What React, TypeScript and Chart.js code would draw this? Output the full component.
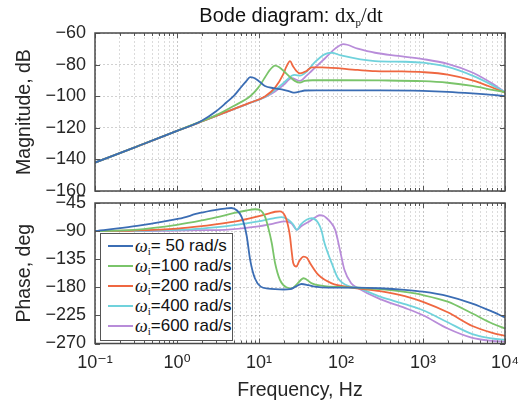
import React, { useEffect, useRef } from "react";
import { Chart, registerables } from "chart.js";
Chart.register(...registerables);

// ---------- data ----------
const seriesNames = ["50", "100", "200", "400", "600"]; // rad/s
const seriesColors = ["#3b6db4", "#7ac46a", "#ef6741", "#70d2dc", "#b88cd9"];

const xMajorTicks = [0.1, 1, 10, 100, 1000, 10000];
const xMajorLabels = ["10\u207B\u00B9", "10\u2070", "10\u00B9", "10\u00B2", "10\u00B3", "10\u2074"];
const magTicks = [-160, -140, -120, -100, -80, -60];
const phaseTicks = [-270, -225, -180, -135, -90, -45];

// magnitude (dB)
const blueMagF = [0.1, 0.3, 1, 2, 3, 4, 5, 6, 7, 7.8, 8.6, 10, 11.8, 15, 18.9, 23, 27.3, 32, 36, 50, 100, 300, 1000, 2000, 4000, 7000, 10000];
const blueMagDb = [-142, -132.5, -122, -115.5, -109.5, -104, -99.5, -94.5, -90.5, -87.9, -88.3, -90.5, -93.5, -94.9, -95.7, -96.8, -97.8, -97, -96.4, -96.3, -96.3, -96.3, -96.6, -97.2, -98.2, -99.2, -100];

const greenMagF = [0.1, 0.3, 1, 2, 3, 4.9, 7.8, 9.8, 11.8, 13.5, 15.7, 17.5, 20.9, 24, 27.3, 31.6, 36, 45, 100, 300, 1000, 2000, 4000, 7000, 10000];
const greenMagDb = [-142, -132.5, -122, -115.8, -112, -106.2, -100, -94.6, -88.2, -83.5, -80.6, -81.5, -85, -88, -90.3, -91.4, -90.3, -89.9, -89.9, -90, -90.5, -91.5, -93.5, -96, -97.5];

const redMagF = [0.1, 0.3, 1, 2, 3, 5, 7.8, 11.8, 15.7, 19.8, 21.5, 23.9, 26, 28.5, 31.6, 38, 44, 58, 160, 260, 500, 1000, 2000, 4000, 7000, 10000];
const redMagDb = [-142, -132.5, -122, -116, -112.5, -108, -104.1, -100.2, -94.6, -86, -81.5, -77.8, -81, -84, -85.6, -84, -81.7, -81.7, -83.4, -84.1, -84.3, -84.8, -86.3, -90, -94.5, -97.8];

const cyanMagF = [0.1, 0.3, 1, 2, 3, 5, 8, 12, 15.7, 20, 25, 27.3, 31.6, 38, 48, 63, 77, 100, 260, 600, 1000, 2000, 4000, 7000, 10000];
const cyanMagDb = [-142, -132.5, -122, -116, -112.5, -108, -104, -100.3, -96, -91.5, -87.1, -86.5, -87, -84.5, -78.5, -73.5, -72.5, -74.2, -77.8, -78.2, -78.8, -81.5, -87, -93, -97.5];

const purpleMagF = [0.1, 0.3, 1, 2, 3, 5, 8, 12, 15.7, 20, 25, 31.6, 38, 44, 63, 85, 107, 160, 260, 500, 1000, 2000, 4000, 7000, 10000];
const purpleMagDb = [-142, -132.5, -122, -116, -112.5, -108, -104, -100.4, -97, -92.8, -88.6, -90.3, -87, -83.9, -76.3, -69.9, -67.1, -69.9, -72.5, -74.5, -76.5, -79.5, -85, -92, -97.5];

// phase (deg)
const bluePhF = [0.1, 0.29, 1.06, 1.9, 3, 3.85, 4.6, 5.4, 6.1, 6.6, 7.1, 7.8, 8.9, 10.5, 13, 15.7, 20, 23.9, 28, 33, 40, 48, 70, 150, 300, 600, 1000, 2000, 4000, 7000, 10000];
const bluePhDeg = [-90, -82.6, -70.2, -61, -56, -54, -53, -57, -66.5, -80, -98.6, -136, -165.5, -178.9, -182, -183, -183.5, -183, -179, -174.7, -176.5, -179, -180.5, -180.5, -181.5, -184, -187, -194, -206, -219, -228.3];

const greenPhF = [0.1, 0.3, 1, 2, 3, 5, 7, 8.9, 10.5, 11.8, 13, 14.3, 15.7, 18, 21.5, 25, 29, 35, 44, 63, 100, 150, 300, 600, 1000, 2000, 4000, 7000, 10000];
const greenPhDeg = [-90, -88, -80, -73, -68, -61, -57, -55, -57, -66.5, -85, -109, -141, -168, -180, -181.6, -175, -165.5, -173.6, -178, -179.5, -180.5, -183, -187.5, -192.5, -203, -222, -238, -246];

const redPhF = [0.1, 0.3, 1, 2, 5, 10, 13, 15.7, 18, 20.9, 22.5, 23.9, 25, 26.2, 28.5, 31, 35, 38.5, 42, 53, 77, 130, 300, 600, 1000, 2000, 4000, 7000, 10000];
const redPhDeg = [-90, -89, -86, -82, -75, -66, -62, -59, -58.5, -66.5, -80, -98.7, -122, -141.4, -146.9, -138, -130.8, -133, -141.4, -160.2, -173.6, -180, -186, -194, -203.3, -220, -242, -253, -257.7];

const cyanPhF = [0.1, 0.3, 1, 2, 3.85, 9.8, 15, 18.9, 22.8, 26, 29, 32, 38, 44, 53, 58, 63, 70, 77, 92, 130, 160, 300, 600, 1000, 2000, 4000, 7000, 10000];
const cyanPhDeg = [-90, -89.5, -88, -86, -82.6, -74.5, -69.5, -67.5, -71.8, -79, -87.9, -80, -71.8, -69.4, -77.5, -90, -109.6, -127, -141.4, -165.5, -179, -181, -195, -207, -216.7, -236, -255, -262, -264];

const purplePhF = [0.1, 0.3, 1, 2, 3.85, 9.8, 15, 20.9, 25, 29, 33, 41, 50, 55, 61, 67, 76, 85, 97, 110, 133, 160, 300, 600, 1000, 2000, 4000, 7000, 10000];
const purplePhDeg = [-90, -90, -89, -88.5, -87.9, -82.6, -78, -74.5, -78, -87.9, -82, -74.5, -67, -64.6, -65.5, -69.4, -77, -88, -120, -152, -173.6, -181, -199, -213, -224.7, -246, -261, -266, -267];

const magF = [blueMagF, greenMagF, redMagF, cyanMagF, purpleMagF];
const magDb = [blueMagDb, greenMagDb, redMagDb, cyanMagDb, purpleMagDb];
const phF = [bluePhF, greenPhF, redPhF, cyanPhF, purplePhF];
const phDeg = [bluePhDeg, greenPhDeg, redPhDeg, cyanPhDeg, purplePhDeg];

// ---------- helpers ----------
const SANS = "'Liberation Sans', Arial, 'DejaVu Sans', sans-serif";
const SERIF = "'Liberation Serif', 'DejaVu Serif', serif";
const TEXT = "#262626";

const xTickValues: number[] = [];
xMajorTicks.forEach((d, i) => {
  xTickValues.push(d);
  if (i < xMajorTicks.length - 1) for (let k = 2; k <= 9; k++) xTickValues.push(k * d);
});
const majorIndex = (v: number) =>
  xMajorTicks.findIndex((m) => Math.abs(Math.log10(m) - Math.log10(v)) < 1e-6);

const minus = (v: number) => (v < 0 ? "\u2212" + Math.abs(v) : String(v));

const framePlugin = {
  id: "frame",
  afterDraw(chart: any) {
    const { ctx, chartArea: a, scales } = chart;
    ctx.save();
    ctx.strokeStyle = "#555";
    ctx.lineWidth = 1;
    ctx.beginPath();
    scales.x.ticks.forEach((t: any) => {
      const px = Math.round(scales.x.getPixelForValue(t.value)) + 0.5;
      const len = majorIndex(t.value) >= 0 ? 5 : 3;
      ctx.moveTo(px, a.bottom);
      ctx.lineTo(px, a.bottom - len);
      ctx.moveTo(px, a.top);
      ctx.lineTo(px, a.top + len);
    });
    scales.y.ticks.forEach((t: any) => {
      const py = Math.round(scales.y.getPixelForValue(t.value)) + 0.5;
      ctx.moveTo(a.left, py);
      ctx.lineTo(a.left + 5, py);
      ctx.moveTo(a.right, py);
      ctx.lineTo(a.right - 5, py);
    });
    ctx.stroke();
    ctx.lineWidth = 1.5;
    ctx.strokeStyle = "#4a4a4a";
    ctx.strokeRect(a.left, a.top, a.right - a.left, a.bottom - a.top);
    ctx.restore();
  },
};

function xScale(showLabels: boolean, height: number) {
  return {
    type: "logarithmic",
    min: 0.1,
    max: 10000,
    afterBuildTicks: (s: any) => {
      s.ticks = xTickValues.map((v) => ({ value: v, major: majorIndex(v) >= 0 }));
    },
    afterFit: (s: any) => {
      s.height = height;
      s.paddingLeft = 0;
      s.paddingRight = 0;
    },
    ticks: {
      display: showLabels,
      autoSkip: false,
      maxRotation: 0,
      minRotation: 0,
      padding: 9,
      color: TEXT,
      font: { family: SANS, size: 18 },
      callback: (v: number) => {
        const i = majorIndex(v);
        return i >= 0 ? xMajorLabels[i] : "";
      },
    },
    grid: {
      drawTicks: false,
      color: (c: any) =>
        c.tick && majorIndex(c.tick.value) >= 0 ? "rgba(0,0,0,0.22)" : "rgba(0,0,0,0.14)",
    },
    border: { display: false, dash: [2, 2] },
    title: {
      display: showLabels,
      text: "Frequency, Hz",
      color: TEXT,
      font: { family: SANS, size: 19.5 },
      padding: { top: 0, bottom: 6 },
    },
  };
}

function yScale(min: number, max: number, ticks: number[], title: string) {
  return {
    type: "linear",
    min,
    max,
    afterBuildTicks: (s: any) => {
      s.ticks = ticks.map((v) => ({ value: v }));
    },
    afterFit: (s: any) => {
      s.width = 95;
      s.paddingTop = 0;
      s.paddingBottom = 0;
    },
    ticks: {
      padding: 9,
      color: TEXT,
      font: { family: SANS, size: 18 },
      callback: (v: number) => minus(v),
    },
    grid: { drawTicks: false, color: "rgba(0,0,0,0.18)" },
    border: { display: false, dash: [2, 2] },
    title: {
      display: true,
      text: title,
      color: TEXT,
      font: { family: SANS, size: 19.5 },
      padding: { top: 13, bottom: 0 },
    },
  };
}

function makeDatasets(fs: number[][], vs: number[][]) {
  return fs.map((f, s) => ({
    label: seriesNames[s],
    data: f.map((x, i) => ({ x, y: vs[s][i] })),
    borderColor: seriesColors[s],
    borderWidth: 1.8,
    pointRadius: 0,
    cubicInterpolationMode: "monotone",
    fill: false,
  }));
}

function baseOptions(padding: any, scales: any) {
  return {
    responsive: false,
    animation: false,
    devicePixelRatio: 1,
    layout: { padding },
    plugins: { legend: { display: false }, tooltip: { enabled: false }, title: { display: false } },
    scales,
  };
}

export default function App() {
  const magRef = useRef<HTMLCanvasElement>(null);
  const phRef = useRef<HTMLCanvasElement>(null);

  useEffect(() => {
    const c1 = new Chart(magRef.current as HTMLCanvasElement, {
      type: "line",
      data: { datasets: makeDatasets(magF, magDb) as any },
      options: baseOptions(
        { left: 0, right: 17, top: 33, bottom: 0 },
        { x: xScale(false, 9), y: yScale(-160, -60, magTicks, "Magnitude, dB") }
      ) as any,
      plugins: [framePlugin],
    });
    const c2 = new Chart(phRef.current as HTMLCanvasElement, {
      type: "line",
      data: { datasets: makeDatasets(phF, phDeg) as any },
      options: baseOptions(
        { left: 0, right: 17, top: 8, bottom: 0 },
        { x: xScale(true, 64.5), y: yScale(-270, -45, phaseTicks, "Phase, deg") }
      ) as any,
      plugins: [framePlugin],
    });
    return () => {
      c1.destroy();
      c2.destroy();
    };
  }, []);

  const legendTop = 233;
  const rowCenters = [245, 265, 285, 305, 325];

  return (
    <div style={{ position: "absolute", left: 0, top: 0, width: 522, height: 408, background: "#fff", overflow: "hidden" }}>
      <canvas ref={magRef} width={522} height={200} style={{ position: "absolute", left: 0, top: 0, display: "block" }} />
      <canvas ref={phRef} width={522} height={213} style={{ position: "absolute", left: 0, top: 195, display: "block" }} />
      <div
        style={{
          position: "absolute",
          left: 141,
          top: 4,
          width: 300,
          textAlign: "center",
          whiteSpace: "nowrap",
          fontFamily: SANS,
          fontSize: 20,
          lineHeight: "22px",
          color: "#111",
        }}
      >
        Bode diagram:{" "}
        <span style={{ fontFamily: SERIF, fontSize: 20.5 }}>
          dx
          <span style={{ fontSize: 11, position: "relative", top: 4 }}>p</span>
          /dt
        </span>
      </div>
      <div
        style={{
          position: "absolute",
          left: 100,
          top: legendTop,
          width: 131,
          height: 106,
          border: "1px solid #555",
          background: "#fff",
        }}
      >
        {seriesNames.map((n, i) => (
          <div
            key={n}
            style={{
              position: "absolute",
              left: 0,
              top: rowCenters[i] - legendTop - 11,
              height: 22,
              display: "flex",
              alignItems: "center",
              whiteSpace: "pre",
              fontFamily: SANS,
              fontSize: 17,
              color: "#111",
            }}
          >
            <div style={{ width: 25, height: 2, marginLeft: 7, background: seriesColors[i] }} />
            <span style={{ marginLeft: 2, fontFamily: SERIF, fontStyle: "italic", fontSize: 18 }}>ω</span>
            <span style={{ fontFamily: SERIF, fontSize: 11, position: "relative", top: 5 }}>i</span>
            <span>{"=" + (n.length < 3 ? " " + n : n) + " rad/s"}</span>
          </div>
        ))}
      </div>
    </div>
  );
}
